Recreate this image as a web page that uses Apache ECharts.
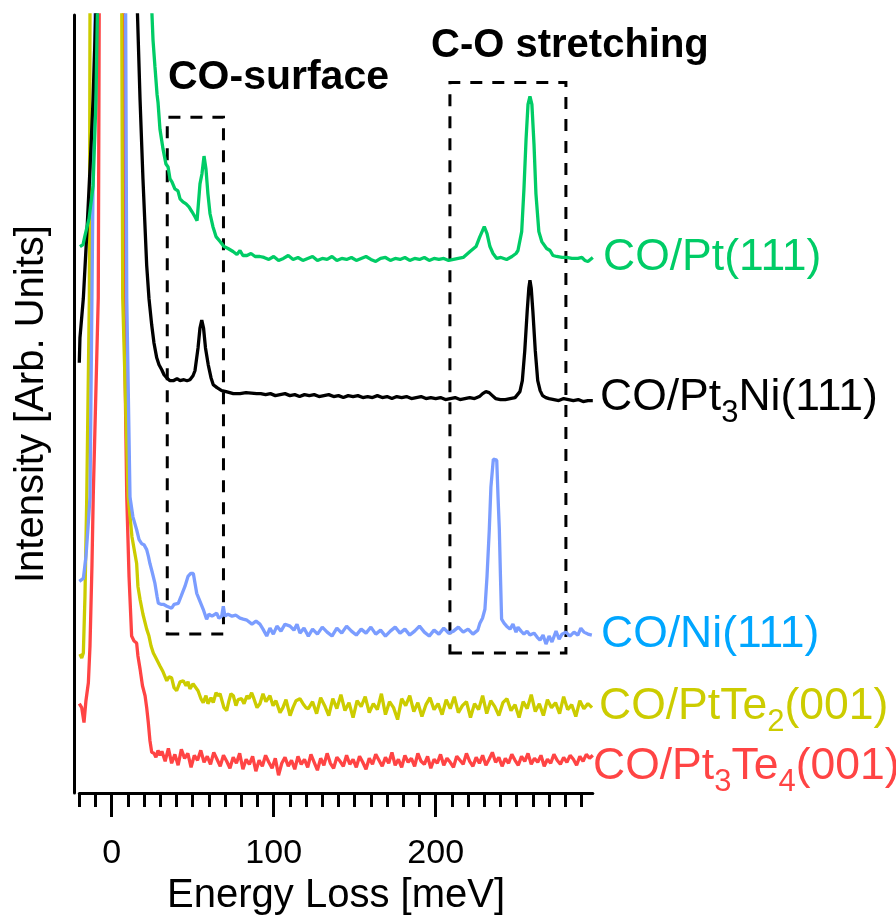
<!DOCTYPE html>
<html>
<head>
<meta charset="utf-8">
<script src="https://cdn.jsdelivr.net/npm/echarts@6/dist/echarts.min.js"></script>
<style>
html, body { margin: 0; padding: 0; background: #fff; }
#chart { width: 896px; height: 921px; }
</style>
</head>
<body>
<div id="chart"></div>
<script>
var FONT = '"Liberation Sans", Arial, Helvetica, sans-serif';

// spectra: [energy loss (meV), intensity (arb. units, already offset)]
var ptGreen = [[-19.6,550],[-17.7,552],[-16.5,561],[-14,578],[-11.5,611],[-9.7,698],[-8.8,790],[0,3000],
  [24.7,790],[25.5,758],[26.7,731],[28,703],[28.6,695],[29.8,668],[31.7,648],[33.5,633],[34.8,630],[36,618],
  [37.2,615],[39,608],[40.9,606],[42.2,598],[44,595],[45.9,593],[47.7,590],[49.6,585],[51.4,580],[52.7,576],
  [54.5,613],[55.7,623],[57,641],[58.2,628],[59.4,603],[60.7,583],[62.5,570],[64.4,560],[66.9,555],[69.3,550],
  [71.8,548],[74.9,545],[77.3,542],[79.2,546],[81,541],[83.5,541],[86,543],[88.5,540],[91.5,540],
  [94,539],[97,537],[100,540],[103,536],[106,538],[109,541],[112,537],[115,539],[118,536],[121,538],[124,540],
  [127,536],[130,538],[133,537],[136,540],[139,536],[142,538],[145,537],[148,539],[151,536],[154,538],[157,540],
  [160,537],[163,535],[166,538],[169,539],[172,536],[175,538],[178,537],[181,539],[184,536],[187,538],[190,537],
  [193,539],[196,536],[199,538],[202,537],[205,538],[208,536],[211,537],[214,538],[217,539],
  [221.2,545],[224.9,550],[227.3,560],[230,570],[231.7,563],[233.5,550],[235.4,543],[237.7,538],[240.3,539],
  [243.8,537],[247.1,540],[249.6,543],[250.8,546],[253.1,565],[254.5,608],[255.8,658],[257,693],[258.2,701],
  [259.4,693],[260.7,653],[261.9,603],[263.7,565],[265.5,555],[268.5,548],[270.6,546],[272.4,541],[274.7,540],
  [278,539],[280.9,539],[284.1,538],[287.8,538],[290.3,539],[292.1,536],[294,535],[297,539]];

var ptBlack = [[-20,433],[-19.6,458],[-17.5,498],[-15.2,568],[-13.4,628],[-11.5,698],[-9.7,790],[0,3000],
  [15.8,790],[17.5,698],[19.3,618],[21.6,531],[23,498],[24.7,471],[26.1,453],[27.8,438],[29.2,431],[30.9,426],
  [32.3,421],[33.9,418],[36,415],[38,415],[40.3,417],[42.2,415],[44.6,416],[46.5,415],[48.3,416],[50.2,420],
  [51.4,425],[53.3,448],[54.5,468],[55.6,476],[56.7,468],[57.9,448],[59.6,431],[61.3,418],[62.7,411],[65,408],
  [67.9,405],[70.6,404],[75.1,402],[79.2,402],[82.9,403],[89.5,402],
  [92,402],[95,401],[98,402],[101,400],[104,401],[107,402],[110,400],[113,401],[116,399],[119,401],[122,400],
  [125,401],[128,399],[131,400],[134,401],[137,399],[140,400],[143,398],[146,400],[149,399],[152,400],[155,398],
  [158,399],[161,398],[164,400],[167,398],[170,399],[173,397],[176,399],[179,398],[182,399],[185,397],[188,398],
  [191,399],[194,397],[197,398],[200,397],[203,398],[206,396],[209,397],[212,398],[215,396],[218,397],[221,398],
  [224,397],[227,399],[229,402],[231,404],[233,403],[235,400],[237,397],[240,396],[243,396],[246,397],[249,398],
  [252,404],[253.5,415],[255,445],[256.5,485],[257.5,508],[258.2,516],[259,508],[260,485],[261.5,445],[263,415],
  [264.5,405],[266,400],[268,398],[270,397],[273,396],[276,395],[279,397],[282,396],[285,395],[288,396],[291,394],
  [294,395],[297,395]];

var niBlue = [[-20,213],[-17.5,216],[-15.9,238],[-14.6,268],[-13.4,298],[-12.2,498],[-11,698],[-10.3,790],[0,3000],
  [8.6,790],[9.3,498],[11.3,298],[13.1,278],[15.4,265],[16.9,255],[18.5,251],[19.9,250],[21.6,245],[22.7,238],
  [23.6,231],[24.9,223],[26.7,211],[28,198],[28.8,191],[30.4,190],[31.9,190],[34.1,188],[37,186],[38.5,190],
  [39.7,188],[41.1,191],[42.8,198],[45.2,208],[47.1,218],[48.8,221],[50.4,221],[52.5,201],[54.5,193],[56.5,185],
  [58.6,175],[60,180],[61.9,178],[64.8,181],[66.2,176],[67.9,178],[68.9,188],[69.9,178],[71.8,180],[74.3,178],
  [76.7,179],[79.2,176],[81.2,175],[83.5,174],[86.6,170],[89.1,173],[91.5,170],[93.4,165],[95.7,158],[97.7,166],
  [99.8,160],[102,168],[104.5,163],[107,170],[110.1,168],[112.5,164],[114.4,170],[116.2,161],[118.7,166],[121.4,158],
  [124,165],[127,160],[130,167],[133,162],[136,158],[139,166],[142,161],[145,168],[148,163],[151,159],[154,165],
  [157,161],[160,167],[163,160],[166,164],[169,158],[172,163],[175,167],[178,161],[181,165],[184,159],[187,163],
  [190,168],[193,162],[196,158],[199,164],[202,160],[205,166],[208,161],[211,163],[214,167],[217,162],[220,165],
  [223,160],[226,164],[227.3,171],[228.9,176],[230.4,185],[231.7,218],[233.1,265],[234.1,308],[235.6,336],
  [236.6,336],[237.7,335],[238.5,298],[239.3,265],[240,218],[240.7,175],[242.2,171],[243.8,168],[245.9,165],
  [247.7,170],[249.6,162],[250.8,167],[252.7,163],[254.5,160],[256.4,163],[258.2,159],[260.7,161],[262.6,157],
  [264.4,154],[266.3,159],[268.1,150],[270,158],[271.8,152],[274.3,163],[276.2,155],[278,160],[280.4,162],
  [282.9,158],[285.4,162],[287.8,159],[289.6,166],[291.5,162],[294,160],[296.4,159]];

var ptte2Yellow = [[-19.6,140],[-18.5,136],[-17.5,141],[-16.5,198],[-15.4,298],[-13.8,498],[-13.4,790],[0,3000],
  [6.2,790],[6.8,498],[10.2,298],[12.5,258],[15.4,231],[16.2,208],[17.5,195],[19.3,180],[21.6,165],[23,158],
  [24.3,148],[25.7,141],[27.3,136],[29.8,128],[31.7,122],[34,113],[35.4,117],[37,116],[38.5,106],[40.1,103],
  [42.2,112],[44.2,113],[45.9,108],[47.1,112],[48.3,105],[50.2,110],[51.4,108],[53.3,103],[55.1,95],[56.5,91],
  [58.2,98],[59.4,90],[61.3,96],[62.7,91],[64.4,101],[65.6,98],[66.9,100],[68.1,93],[69.3,86],[71,83],[72.4,93],
  [73.6,100],[75.1,98],[76.7,88],[78,94],[80.2,95],[81.7,90],[83.5,98],[84.8,95],[86.4,101],[87.8,95],[89.7,86],
  [91.5,90],[93.4,100],[95.2,92],[97.7,98],[99.6,88],[101.4,93],[103.9,81],[105.7,86],[107.6,94],[110.1,78],
  [111.9,86],[113.8,93],[116.2,95],[118.1,90],[119.9,86],[121.4,85],
  [124,92],[126.5,80],[129,96],[131.5,88],[134,78],[136.5,95],[139,85],[141.5,99],[144,83],[146.5,91],[149,76],
  [151.5,93],[154,87],[156.5,97],[159,81],[161.5,90],[164,84],[166.5,100],[169,79],[171.5,92],[174,86],[176.5,74],
  [179,95],[181.5,88],[184,98],[186.5,82],[189,91],[191.5,77],[194,89],[196.5,96],[199,84],[201.5,90],[204,79],
  [206.5,94],[209,85],[211.5,97],[214,81],[216.5,88],[219,92],[221.5,76],[224,90],[226.5,84],[229,98],[231.5,80],
  [234,93],[236.5,87],[239,78],[241.5,91],[244,95],[246.5,83],[249,89],[251.5,76],[254,92],[256.5,85],[259,99],
  [261.5,82],[264,90],[266.5,78],[269,94],[271.5,86],[274,91],[276.5,80],[279,97],[281.5,84],[284,89],[286.5,77],
  [289,93],[291.5,85],[294,90],[296.5,86]];

var pt3te4Red = [[-20,90],[-18.5,86],[-17.1,71],[-15.9,93],[-14.4,111],[-13.4,148],[-12.2,228],[-11.4,298],
  [-8.3,498],[-7.7,790],[0,3000],[7.2,790],[7.6,498],[9.3,298],[10.7,218],[12.3,158],[13.8,153],[15.4,151],
  [16.2,138],[17.5,125],[19,108],[20.6,98],[21.6,86],[22.6,71],[23.6,53],[24.7,41],[26.1,40],[27.3,36],[28.6,43],
  [29.8,38],[31,42],[33,32],[35,45],[37,30],[39,39],[41,28],[43,44],[45,35],[47,40],[49,26],[51,38],[53,33],
  [55,43],[57,31],[59,37],[61,29],[63,41],[65,34],[67,27],[69,38],[71,32],[73,25],[75,36],[77,30],[79,40],[81,24],
  [83,34],[85,29],[87,37],[89,22],[91,33],[93,27],[95,38],[97,31],[99,25],[101,35],[103,18],[105,30],[107,36],
  [109,27],[111,33],[113,24],[115,37],[117,29],[119,34],[121,26],[123,39],[125,31],[127,23],[129,35],[131,28],
  [133,40],[135,30],[137,25],[139,36],[141,32],[143,27],[145,38],[147,29],[149,34],[151,26],[153,37],[155,31],
  [157,24],[159,35],[161,29],[163,39],[165,33],[167,27],[169,36],[171,30],[173,41],[175,28],[177,34],[179,26],
  [181,38],[183,31],[185,35],[187,27],[189,40],[191,32],[193,29],[195,37],[197,25],[199,34],[201,30],[203,39],
  [205,28],[207,35],[209,31],[211,26],[213,37],[215,33],[217,29],[219,40],[221,32],[223,27],[225,36],[227,30],
  [229,38],[231,28],[233,34],[235,41],[237,31],[239,36],[241,27],[243,35],[245,30],[247,39],[249,33],[251,28],
  [253,37],[255,32],[257,40],[259,29],[261,35],[263,31],[265,38],[267,27],[269,34],[271,30],[273,39],[275,33],
  [277,29],[279,36],[281,31],[283,38],[285,34],[287,28],[289,37],[291,32],[293,39],[295,35],[297,38]];

var minorTicks = [-20,-10,0,10,20,30,40,50,60,70,80,90,100,110,120,130,140,150,160,170,180,190,200,210,220,230,240,250,260,270,280,290];
var majorTicks = [0,100,200];

// dashed boxes: [xFrom, yFrom, xTo, yTo]
var boxSurface = [34.3, 160, 69, 680];
var boxStretch = [208.8, 141, 280.4, 715];

var seriesNames = ['CO/Pt(111)', 'CO/Pt3Ni(111)', 'CO/Ni(111)', 'CO/PtTe2(001)', 'CO/Pt3Te4(001)'];
var seriesLabels = ['CO/Pt(111)', 'CO/Pt{s|3}Ni(111)', 'CO/Ni(111)', 'CO/PtTe{s|2}(001)', 'CO/Pt{s|3}Te{s|4}(001)'];
var lineColors = ['#00CC66', '#000000', '#7B9DFF', '#CCCC00', '#FF4444'];
var labelColors = ['#00CC66', '#000000', '#00A6FF', '#CCCC00', '#FF4444'];
var labelPos = [[603, 258], [600, 398], [601, 635], [599, 707], [593, 767]];

var chart = echarts.init(document.getElementById('chart'));

var allData = [ptGreen, ptBlack, niBlue, ptte2Yellow, pt3te4Red];
var series = allData.map(function(d, i) {
  return {
    name: seriesNames[i], type: 'line', data: d, xAxisIndex: 0,
    showSymbol: false, symbol: 'none', clip: true, animation: false,
    lineStyle: { color: lineColors[i], width: 3.3 },
    z: 10 - i
  };
});

var dashBox = { color: 'rgba(0,0,0,0)', borderColor: '#000', borderWidth: 3, borderType: [12, 10] };
series.push({
  type: 'line', data: [], xAxisIndex: 0, silent: true,
  markArea: {
    silent: true, itemStyle: dashBox, label: { show: false },
    data: [
      [{ xAxis: boxSurface[0], yAxis: boxSurface[1] }, { xAxis: boxSurface[2], yAxis: boxSurface[3] }],
      [{ xAxis: boxStretch[0], yAxis: boxStretch[1] }, { xAxis: boxStretch[2], yAxis: boxStretch[3] }]
    ]
  }
});

var labelGraphics = seriesLabels.map(function(txt, i) {
  return {
    type: 'text', x: labelPos[i][0], y: labelPos[i][1], z: 100,
    style: {
      text: txt, fill: labelColors[i], fontSize: 44.5, fontFamily: FONT, lineHeight: 60,
      align: 'left', verticalAlign: 'middle', textAlign: 'left', textVerticalAlign: 'middle',
      rich: { s: { fontSize: 31, fontFamily: FONT, fill: labelColors[i], lineHeight: 60, padding: [30, 0, 0, 0] } }
    }
  };
});

chart.setOption({
  backgroundColor: '#fff',
  animation: false,
  grid: { left: 79.3, right: 303.2, top: 15, bottom: 123, containLabel: false },
  xAxis: [{
    type: 'value', min: -20, max: 297,
    name: 'Energy Loss [meV]', nameLocation: 'middle', nameGap: 74,
    nameTextStyle: { fontSize: 40, fontFamily: FONT, color: '#000' },
    axisLine: { show: true, onZero: false, lineStyle: { color: '#000', width: 3 } },
    axisTick: { show: true, customValues: minorTicks, length: 14, lineStyle: { color: '#000', width: 3 } },
    axisLabel: { customValues: majorTicks, fontSize: 34, fontFamily: FONT, color: '#000', margin: 44 },
    splitLine: { show: false }
  }, {
    type: 'value', min: -20, max: 297, position: 'bottom',
    axisLine: { show: false, onZero: false },
    axisTick: { show: true, customValues: majorTicks, length: 24, lineStyle: { color: '#000', width: 3 } },
    axisLabel: { show: false },
    splitLine: { show: false }
  }],
  yAxis: {
    type: 'value', min: 0, max: 783, offset: 5.3, position: 'left',
    name: 'Intensity [Arb. Units]', nameLocation: 'middle', nameGap: 22,
    nameTextStyle: { fontSize: 40, fontFamily: FONT, color: '#000' },
    axisLine: { show: true, onZero: false, lineStyle: { color: '#000', width: 3 } },
    axisTick: { show: false }, axisLabel: { show: false }, splitLine: { show: false }
  },
  series: series,
  graphic: labelGraphics.concat([
    { type: 'text', x: 168, y: 77.5, z: 100,
      style: { text: 'CO-surface', fill: '#000', fontSize: 41, fontWeight: 'bold', fontFamily: FONT,
               align: 'left', verticalAlign: 'middle', textAlign: 'left', textVerticalAlign: 'middle' } },
    { type: 'text', x: 431, y: 46, z: 100,
      style: { text: 'C-O stretching', fill: '#000', fontSize: 40, fontWeight: 'bold', fontFamily: FONT,
               align: 'left', verticalAlign: 'middle', textAlign: 'left', textVerticalAlign: 'middle' } }
  ])
});
</script>
</body>
</html>
